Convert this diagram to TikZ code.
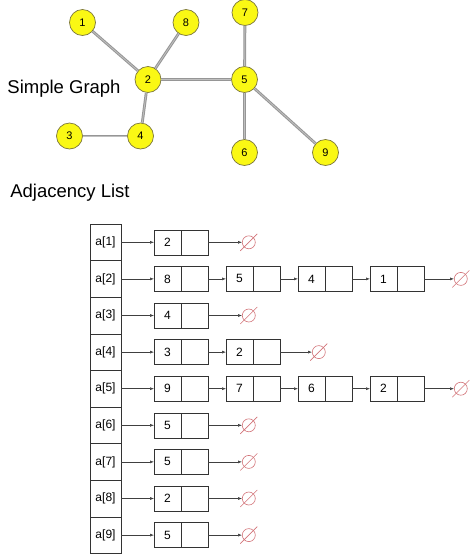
\documentclass[tikz,border=0pt]{standalone}
\usepackage{fontspec}
\setmainfont{Liberation Sans}
\usetikzlibrary{positioning,arrows.meta}
\definecolor{vertexfill}{RGB}{250,248,20}
\definecolor{vertexline}{RGB}{125,120,60}
\definecolor{edgegray}{RGB}{150,150,150}
\definecolor{nullred}{RGB}{210,115,120}

\begin{document}
\begin{tikzpicture}[x=1pt,y=-1pt,
  vertex/.style={circle,draw=vertexline,fill=vertexfill,line width=0.7pt,minimum size=26pt,inner sep=0pt,font=\fontsize{11}{13}\selectfont},
  graphedge/.style={draw=edgegray,double=black!25,double distance=0.8pt,line width=1pt},
  slot/.style={draw=black!80,line width=0.6pt,minimum width=31pt,minimum height=36.6pt,inner sep=0pt,outer sep=0pt,font=\fontsize{12}{14}\selectfont},
  datacell/.style={draw=black!80,line width=0.6pt,minimum width=27pt,minimum height=25pt,inner sep=0pt,outer sep=0pt,font=\fontsize{12}{14}\selectfont},
  ptrcell/.style={datacell},
  nullsym/.style={circle,draw=nullred,line width=0.6pt,minimum size=13pt,inner sep=0pt,
    append after command={([xshift=-8.5pt,yshift=-8.5pt]\tikzlastnode.center) edge[draw=nullred,line width=0.6pt] ([xshift=8.5pt,yshift=8.5pt]\tikzlastnode.center)}},
  ptr/.style={draw=black!75,line width=0.5pt,-{Latex[length=4pt,width=3pt]}},
]
\useasboundingbox (0,0) rectangle (474,558);

% The titles
\node[font=\fontsize{18.5}{22}\selectfont] (graphtitle) at (64,89) {Simple Graph};
\node[font=\fontsize{18.5}{22}\selectfont] (listtitle) at (70,193) {Adjacency List};

% The vertices
\node[vertex] (v1) at (82.5,22.5) {1};
\node[vertex] (v8) at (186,22.5) {8};
\node[vertex] (v7) at (245,12.5) {7};
\node[vertex] (v2) at (148,79.5) {2};
\node[vertex] (v5) at (244.5,79.5) {5};
\node[vertex] (v3) at (69.5,136) {3};
\node[vertex] (v4) at (140.5,136) {4};
\node[vertex] (v6) at (244.5,152.5) {6};
\node[vertex] (v9) at (325.5,152.5) {9};

% The edges
\draw[graphedge] (v1) -- (v2);
\draw[graphedge] (v8) -- (v2);
\draw[graphedge] (v2) -- (v5);
\draw[graphedge] (v2) -- (v4);
\draw[graphedge] (v3) -- (v4);
\draw[graphedge] (v7) -- (v5);
\draw[graphedge] (v5) -- (v6);
\draw[graphedge] (v5) -- (v9);

% The array
\node[slot] (a1) at (105.5,242.3) {a[1]};
\node[slot] (a2) at (105.5,278.9) {a[2]};
\node[slot] (a3) at (105.5,315.5) {a[3]};
\node[slot] (a4) at (105.5,352.1) {a[4]};
\node[slot] (a5) at (105.5,388.7) {a[5]};
\node[slot] (a6) at (105.5,425.3) {a[6]};
\node[slot] (a7) at (105.5,461.9) {a[7]};
\node[slot] (a8) at (105.5,498.5) {a[8]};
\node[slot] (a9) at (105.5,535.1) {a[9]};

% List of a[1]
\node[datacell] (d11) at (167.5,242.3) {2};
\node[ptrcell,right=0pt of d11] (p11) {};
\node[nullsym,right=34pt of p11] (z1) {};
\draw[ptr] (a1) -- (d11);
\draw[ptr] (p11) -- (z1);

% List of a[2]
\node[datacell] (d21) at (167.5,278.9) {8};
\node[ptrcell,right=0pt of d21] (p21) {};
\node[datacell,right=18pt of p21] (d22) {5};
\node[ptrcell,right=0pt of d22] (p22) {};
\node[datacell,right=18pt of p22] (d23) {4};
\node[ptrcell,right=0pt of d23] (p23) {};
\node[datacell,right=18pt of p23] (d24) {1};
\node[ptrcell,right=0pt of d24] (p24) {};
\node[nullsym,right=30pt of p24] (z2) {};
\draw[ptr] (a2) -- (d21);
\draw[ptr] (p21) -- (d22);
\draw[ptr] (p22) -- (d23);
\draw[ptr] (p23) -- (d24);
\draw[ptr] (p24) -- (z2);

% List of a[3]
\node[datacell] (d31) at (167.5,315.5) {4};
\node[ptrcell,right=0pt of d31] (p31) {};
\node[nullsym,right=34pt of p31] (z3) {};
\draw[ptr] (a3) -- (d31);
\draw[ptr] (p31) -- (z3);

% List of a[4]
\node[datacell] (d41) at (167.5,352.1) {3};
\node[ptrcell,right=0pt of d41] (p41) {};
\node[datacell,right=18pt of p41] (d42) {2};
\node[ptrcell,right=0pt of d42] (p42) {};
\node[nullsym,right=32pt of p42] (z4) {};
\draw[ptr] (a4) -- (d41);
\draw[ptr] (p41) -- (d42);
\draw[ptr] (p42) -- (z4);

% List of a[5]
\node[datacell] (d51) at (167.5,388.7) {9};
\node[ptrcell,right=0pt of d51] (p51) {};
\node[datacell,right=18pt of p51] (d52) {7};
\node[ptrcell,right=0pt of d52] (p52) {};
\node[datacell,right=18pt of p52] (d53) {6};
\node[ptrcell,right=0pt of d53] (p53) {};
\node[datacell,right=18pt of p53] (d54) {2};
\node[ptrcell,right=0pt of d54] (p54) {};
\node[nullsym,right=30pt of p54] (z5) {};
\draw[ptr] (a5) -- (d51);
\draw[ptr] (p51) -- (d52);
\draw[ptr] (p52) -- (d53);
\draw[ptr] (p53) -- (d54);
\draw[ptr] (p54) -- (z5);

% List of a[6]
\node[datacell] (d61) at (167.5,425.3) {5};
\node[ptrcell,right=0pt of d61] (p61) {};
\node[nullsym,right=34pt of p61] (z6) {};
\draw[ptr] (a6) -- (d61);
\draw[ptr] (p61) -- (z6);

% List of a[7]
\node[datacell] (d71) at (167.5,461.9) {5};
\node[ptrcell,right=0pt of d71] (p71) {};
\node[nullsym,right=34pt of p71] (z7) {};
\draw[ptr] (a7) -- (d71);
\draw[ptr] (p71) -- (z7);

% List of a[8]
\node[datacell] (d81) at (167.5,498.5) {2};
\node[ptrcell,right=0pt of d81] (p81) {};
\node[nullsym,right=34pt of p81] (z8) {};
\draw[ptr] (a8) -- (d81);
\draw[ptr] (p81) -- (z8);

% List of a[9]
\node[datacell] (d91) at (167.5,535.1) {5};
\node[ptrcell,right=0pt of d91] (p91) {};
\node[nullsym,right=34pt of p91] (z9) {};
\draw[ptr] (a9) -- (d91);
\draw[ptr] (p91) -- (z9);

\end{tikzpicture}
\end{document}
